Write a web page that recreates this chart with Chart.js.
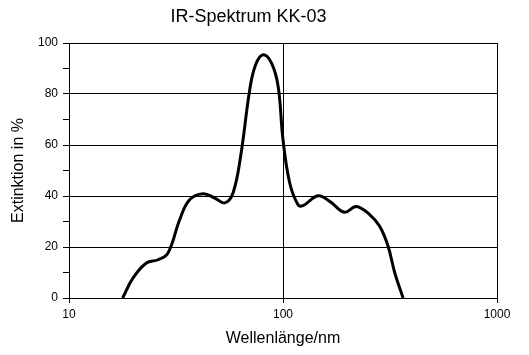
<!DOCTYPE html>
<html>
<head>
<meta charset="utf-8">
<title>IR-Spektrum KK-03</title>
<script src="https://cdn.jsdelivr.net/npm/chart.js@4"></script>
<style>
  html, body { margin: 0; padding: 0; background: #fff; }
  #chart { display: block; }
</style>
</head>
<body>
<canvas id="chart" width="529" height="355"></canvas>
<script>
// Wellenlänge in nm (log axis) and Extinktion in %
const wavelengths = [17.8, 19.9, 23.0, 26.1, 29.0, 32.9, 36.6, 42.3, 48.0, 53.4, 58.4, 63.5, 70.0, 74.5, 80.7, 88.3, 94.9, 100, 107.5, 117.5, 124, 145.7, 165.3, 194, 220, 254, 283, 310, 333, 364];
const extinction  = [0, 7.8, 13.7, 15.0, 17.6, 30.7, 38.5, 40.9, 39.2, 37.3, 41.2, 56.0, 82.0, 91.5, 95.4, 92.2, 83.0, 62.1, 45.1, 36.6, 36.2, 40.1, 37.9, 33.6, 35.9, 32.7, 28.1, 20.2, 9.8, 0];

const xTicks = [10, 100, 1000];
const yMin = 0, yMax = 100, yStep = 10, yLabelStep = 20;

const fontFamily = "'Liberation Sans', Arial, sans-serif";
Chart.defaults.color = "#000";
Chart.defaults.font.family = fontFamily;

const points = wavelengths.map((w, i) => ({ x: w, y: extinction[i] }));

const ctx = document.getElementById("chart").getContext("2d");
new Chart(ctx, {
  type: "line",
  data: {
    datasets: [{
      data: points,
      borderColor: "#000",
      borderWidth: 3,
      pointRadius: 0,
      tension: 0.4,
      fill: false
    }]
  },
  options: {
    responsive: false,
    animation: false,
    layout: { padding: { top: 0, right: 32, bottom: 0, left: 0 } },
    plugins: {
      legend: { display: false },
      tooltip: { enabled: false },
      title: {
        display: true,
        text: "IR-Spektrum KK-03",
        font: { size: 18, weight: "normal", family: fontFamily },
        padding: { top: 6, bottom: 15.4 }
      }
    },
    scales: {
      x: {
        type: "logarithmic",
        min: 10,
        max: 1000,
        afterBuildTicks: function(scale) {
          scale.ticks = xTicks.map(v => ({ value: v }));
        },
        afterFit: function(scale) { scale.height = 57; },
        ticks: {
          font: { size: 12 },
          padding: 4,
          maxRotation: 0,
          callback: function(value) { return String(value); }
        },
        grid: {
          color: "#000",
          lineWidth: 1,
          tickLength: 5,
          tickColor: "#000"
        },
        border: { color: "#000", width: 1 },
        title: {
          display: true,
          text: "Wellenlänge/nm",
          font: { size: 16 },
          padding: { top: 0, bottom: 6.4 }
        }
      },
      y: {
        min: yMin,
        max: yMax,
        afterFit: function(scale) { scale.width = 69; },
        ticks: {
          stepSize: yStep,
          font: { size: 12 },
          padding: 5,
          callback: function(value) {
            return value % yLabelStep === 0 ? String(value) : "";
          }
        },
        grid: {
          color: function(c) {
            return c.tick && c.tick.value % yLabelStep === 0 ? "#000" : "rgba(0,0,0,0)";
          },
          lineWidth: 1,
          tickLength: 6,
          tickColor: "#000"
        },
        border: { color: "#000", width: 1 },
        title: {
          display: true,
          text: "Extinktion in %",
          font: { size: 16 },
          padding: { top: 9.4, bottom: 0 }
        }
      }
    }
  }
});
</script>
</body>
</html>
